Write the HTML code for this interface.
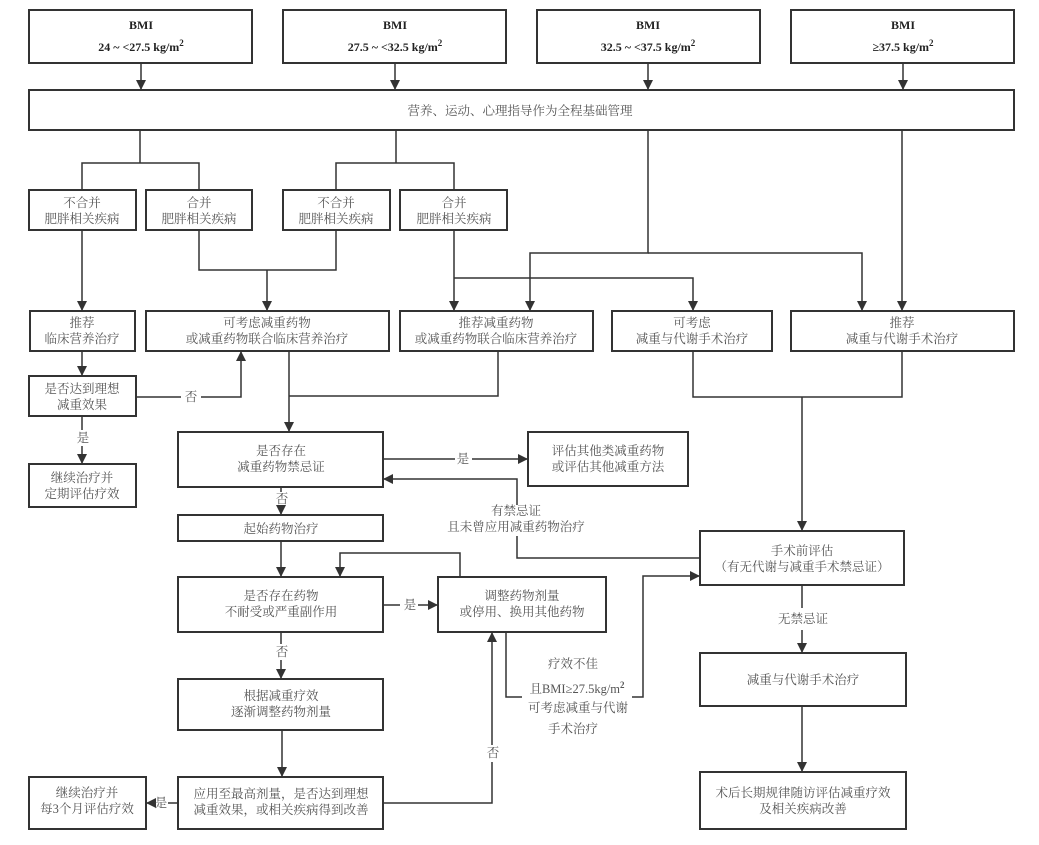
<!DOCTYPE html>
<html><head><meta charset="utf-8"><style>
body{margin:0;background:#fff}
svg text{font-family:"Liberation Serif","Noto Serif CJK SC",serif;font-size:12.5px;fill:#555;text-anchor:middle}
.b{font-weight:bold;fill:#222;font-size:12px}
</style></head><body>
<svg width="1039" height="840" viewBox="0 0 1039 840" xmlns="http://www.w3.org/2000/svg">
<defs><marker id="a" markerWidth="10" markerHeight="10" refX="9" refY="5" orient="auto" markerUnits="userSpaceOnUse"><path d="M0,0 L10,5 L0,10z" fill="#333"/></marker></defs>
<g fill="none" stroke="#333" stroke-width="2">
<rect x="29" y="10" width="223" height="53"/><rect x="283" y="10" width="223" height="53"/>
<rect x="537" y="10" width="223" height="53"/><rect x="791" y="10" width="223" height="53"/>
<rect x="29" y="90" width="985" height="40"/>
<rect x="29" y="190" width="107" height="40"/><rect x="146" y="190" width="106" height="40"/>
<rect x="283" y="190" width="107" height="40"/><rect x="400" y="190" width="107" height="40"/>
<rect x="30" y="311" width="105" height="40"/><rect x="146" y="311" width="243" height="40"/>
<rect x="400" y="311" width="193" height="40"/><rect x="612" y="311" width="160" height="40"/>
<rect x="791" y="311" width="223" height="40"/>
<rect x="29" y="376" width="107" height="40"/><rect x="29" y="464" width="107" height="43"/>
<rect x="178" y="432" width="205" height="55"/><rect x="528" y="432" width="160" height="54"/>
<rect x="178" y="515" width="205" height="26"/><rect x="178" y="577" width="205" height="55"/>
<rect x="438" y="577" width="168" height="55"/><rect x="178" y="679" width="205" height="51"/>
<rect x="178" y="777" width="205" height="52"/><rect x="29" y="777" width="117" height="52"/>
<rect x="700" y="531" width="204" height="54"/><rect x="700" y="653" width="206" height="53"/>
<rect x="700" y="772" width="206" height="57"/>
</g>
<g fill="none" stroke="#333" stroke-width="1.5">
<path d="M141 63V89" marker-end="url(#a)"/><path d="M395 63V89" marker-end="url(#a)"/>
<path d="M648 63V89" marker-end="url(#a)"/><path d="M903 63V89" marker-end="url(#a)"/>
<path d="M140 130V163M82 190V163H199V190M396 130V163M336 190V163H454V190"/>
<path d="M648 130V253H530V310" marker-end="url(#a)"/><path d="M648 253H862V310" marker-end="url(#a)"/>
<path d="M902 130V310" marker-end="url(#a)"/>
<path d="M82 230V310" marker-end="url(#a)"/>
<path d="M199 230V270H336V230M267 270V310" marker-end="url(#a)"/>
<path d="M454 230V310" marker-end="url(#a)"/><path d="M454 278H693V310" marker-end="url(#a)"/>
<path d="M82 351V375" marker-end="url(#a)"/>
<path d="M136 397H181M201 397H241V352" marker-end="url(#a)"/>
<path d="M82 416V430M82 446V463" marker-end="url(#a)"/>
<path d="M289 351V431" marker-end="url(#a)"/><path d="M498 351V396H289"/>
<path d="M383 459H455M472 459H527" marker-end="url(#a)"/>
<path d="M700 558H517V536M517 505V479H384" marker-end="url(#a)"/>
<path d="M281 487V492M281 507V514" marker-end="url(#a)"/>
<path d="M281 541V576" marker-end="url(#a)"/>
<path d="M383 605H400M418 605H437" marker-end="url(#a)"/>
<path d="M460 577V553H340V576" marker-end="url(#a)"/>
<path d="M281 632V644M281 660V678" marker-end="url(#a)"/>
<path d="M282 730V776" marker-end="url(#a)"/>
<path d="M178 803H168M155 803H147" marker-end="url(#a)"/>
<path d="M383 803H492V762M492 745V633" marker-end="url(#a)"/>
<path d="M506 632V697H522M632 697H643V576H699" marker-end="url(#a)"/>
<path d="M693 351V397H902V351M802 397V530" marker-end="url(#a)"/>
<path d="M802 585V608M802 630V652" marker-end="url(#a)"/>
<path d="M802 706V771" marker-end="url(#a)"/>
</g>
<g>
<text class="b" x="141" y="29">BMI</text><text class="b" x="141" y="51">24 ~ &lt;27.5 kg/m<tspan dy="-5" font-size="9">2</tspan></text>
<text class="b" x="395" y="29">BMI</text><text class="b" x="395" y="51">27.5 ~ &lt;32.5 kg/m<tspan dy="-5" font-size="9">2</tspan></text>
<text class="b" x="648" y="29">BMI</text><text class="b" x="648" y="51">32.5 ~ &lt;37.5 kg/m<tspan dy="-5" font-size="9">2</tspan></text>
<text class="b" x="903" y="29">BMI</text><text class="b" x="903" y="51">≥37.5 kg/m<tspan dy="-5" font-size="9">2</tspan></text>
<text x="520" y="115">营养、运动、心理指导作为全程基础管理</text>
<text x="82" y="207">不合并</text><text x="82" y="223">肥胖相关疾病</text>
<text x="199" y="207">合并</text><text x="199" y="223">肥胖相关疾病</text>
<text x="336" y="207">不合并</text><text x="336" y="223">肥胖相关疾病</text>
<text x="454" y="207">合并</text><text x="454" y="223">肥胖相关疾病</text>
<text x="82" y="327">推荐</text><text x="82" y="343">临床营养治疗</text>
<text x="267" y="327">可考虑减重药物</text><text x="267" y="343">或减重药物联合临床营养治疗</text>
<text x="496" y="327">推荐减重药物</text><text x="496" y="343">或减重药物联合临床营养治疗</text>
<text x="692" y="327">可考虑</text><text x="692" y="343">减重与代谢手术治疗</text>
<text x="902" y="327">推荐</text><text x="902" y="343">减重与代谢手术治疗</text>
<text x="82" y="393">是否达到理想</text><text x="82" y="409">减重效果</text>
<text x="191" y="401">否</text><text x="83" y="442">是</text>
<text x="82" y="482">继续治疗并</text><text x="82" y="498">定期评估疗效</text>
<text x="281" y="455">是否存在</text><text x="281" y="471">减重药物禁忌证</text>
<text x="463" y="463">是</text>
<text x="608" y="455">评估其他类减重药物</text><text x="608" y="471">或评估其他减重方法</text>
<text x="516" y="515">有禁忌证</text><text x="516" y="531">且未曾应用减重药物治疗</text>
<text x="282" y="503">否</text>
<text x="281" y="533">起始药物治疗</text>
<text x="281" y="600">是否存在药物</text><text x="281" y="616">不耐受或严重副作用</text>
<text x="410" y="609">是</text>
<text x="522" y="600">调整药物剂量</text><text x="522" y="616">或停用、换用其他药物</text>
<text x="282" y="656">否</text>
<text x="281" y="700">根据减重疗效</text><text x="281" y="716">逐渐调整药物剂量</text>
<text x="281" y="798">应用至最高剂量，是否达到理想</text><text x="281" y="814">减重效果，或相关疾病得到改善</text>
<text x="161" y="807">是</text>
<text x="87" y="797">继续治疗并</text><text x="87" y="813">每3个月评估疗效</text>
<text x="493" y="757">否</text>
<text x="573" y="668">疗效不佳</text><text x="577" y="693">且BMI≥27.5kg/m<tspan dy="-5" font-size="9" font-weight="bold">2</tspan></text>
<text x="578" y="712">可考虑减重与代谢</text><text x="573" y="733">手术治疗</text>
<text x="802" y="555">手术前评估</text><text x="802" y="571">（有无代谢与减重手术禁忌证）</text>
<text x="803" y="623">无禁忌证</text>
<text x="803" y="684">减重与代谢手术治疗</text>
<text x="803" y="797">术后长期规律随访评估减重疗效</text><text x="803" y="813">及相关疾病改善</text>
</g>
</svg>
</body></html>
